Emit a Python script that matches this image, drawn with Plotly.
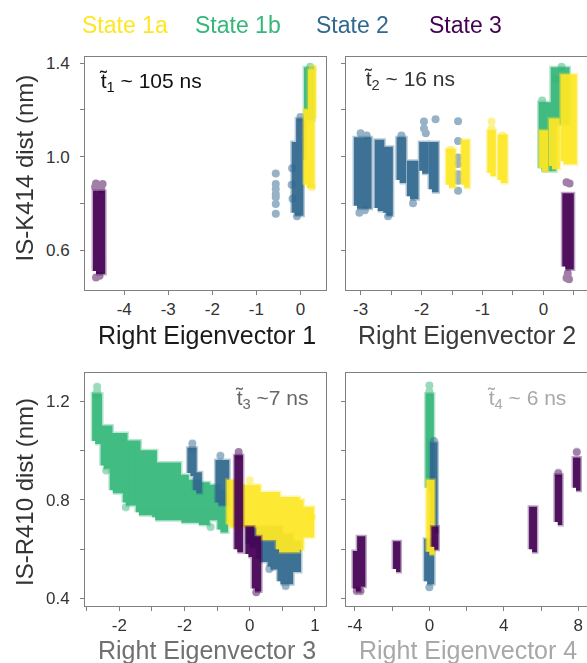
import plotly.graph_objects as go

# ---------------- data ----------------
STATE_COLORS = {"1a": "#fde725", "1b": "#35b779", "2": "#31688e", "3": "#440154"}
LEGEND_NAMES = ["State 1a", "State 1b", "State 2", "State 3"]
LEGEND_KEYS = ["1a", "1b", "2", "3"]

# clusters of points: (x_lo, x_hi, y_lo, y_hi)
# panel 1: Right Eigenvector 1 vs IS-K414 dist
p1_1b = [(0.15, 0.24, 1.17, 1.37)]
p1_2 = [(-0.13, 0.0, 0.76, 1.05), (-0.03, 0.05, 1.0, 1.15)]
p1_1a = [(0.24, 0.28, 1.18, 1.36), (0.14, 0.25, 0.88, 1.19)]
p1_3 = [(-4.64, -4.50, 0.51, 0.84)]
p1_pts = {
    "1b": ([0.22], [1.385]),
    "2": ([-0.56, -0.56, -0.56, -0.56, -0.56, -0.56, -0.56, -0.19, -0.20, -0.18, 0.0, -0.08],
          [0.928, 0.883, 0.861, 0.84, 0.826, 0.797, 0.755, 0.95, 0.88, 0.82, 1.17, 0.745]),
    "1a": ([0.28, 0.26], [1.38, 0.87]),
    "3": ([-4.64, -4.49, -4.64, -4.56, -4.52, -4.66], [0.885, 0.883, 0.483, 0.49, 0.86, 0.87]),
}

# panel 2: Right Eigenvector 2 vs IS-K414 dist
p2_1b = [(-0.03, 0.16, 0.95, 1.22), (0.17, 0.38, 1.15, 1.37)]
p2_2 = [(-3.06, -2.87, 0.79, 1.07), (-2.72, -2.66, 0.78, 1.06), (-2.58, -2.52, 0.76, 1.03),
        (-2.36, -2.30, 0.90, 1.07), (-2.19, -2.10, 0.83, 0.97), (-1.99, -1.93, 0.94, 1.05),
        (-1.83, -1.77, 0.86, 1.05)]
p2_1a = [(-1.55, -1.49, 0.88, 1.02), (-1.30, -1.26, 0.88, 1.06), (-0.87, -0.83, 0.93, 1.10),
         (-0.70, -0.64, 0.90, 1.08), (-0.02, 0.03, 0.95, 1.10), (0.14, 0.22, 0.96, 1.15),
         (0.33, 0.50, 0.98, 1.34)]
p2_3 = [(0.36, 0.45, 0.53, 0.83)]
p2_pts = {
    "1b": ([0.30, 0.20, -0.02], [1.385, 1.33, 1.24]),
    "2": ([-3.0, -2.9, -3.02, -2.93, -1.96, -1.96, -1.93, -1.77, -1.40, -1.40, -1.40, -1.40, -1.40,
           -1.40, -1.40, -2.33, -2.55, -2.14],
          [1.10, 1.09, 0.76, 0.77, 1.15, 1.12, 1.10, 1.16, 1.152, 1.067, 0.996, 0.968, 0.925,
           0.897, 0.854, 1.09, 0.745, 0.80]),
    "1a": ([-1.52, -0.85, -0.85, -0.67], [1.03, 1.15, 1.12, 1.09]),
    "3": ([0.38, 0.43, 0.38, 0.42, 0.40], [0.89, 0.885, 0.48, 0.475, 0.50]),
}

# panel 3: Right Eigenvector 3 vs IS-R410 dist
p3_1b = [(-2.37, -2.31, 1.04, 1.22), (-2.24, -2.15, 0.94, 1.09), (-2.10, -1.92, 0.84, 1.06),
         (-1.90, -1.72, 0.79, 1.03), (-1.70, -1.47, 0.75, 0.99), (-1.45, -1.10, 0.73, 0.94),
         (-1.05, -0.98, 0.72, 0.89), (-0.95, -0.80, 0.72, 0.87), (-0.78, -0.66, 0.71, 0.86),
         (-0.64, -0.50, 0.73, 0.85), (-0.45, -0.38, 0.68, 0.83)]
p3_2 = [(-0.91, -0.86, 0.91, 1.00), (-0.82, -0.78, 0.84, 0.90), (-0.48, -0.36, 0.79, 0.95),
        (0.0, 0.15, 0.62, 0.68), (0.15, 0.30, 0.56, 0.68), (0.32, 0.45, 0.53, 0.68),
        (0.47, 0.62, 0.47, 0.65), (0.62, 0.74, 0.52, 0.62)]
p3_1a = [(-0.31, -0.17, 0.70, 0.87), (-0.12, 0.12, 0.70, 0.85), (0.15, 0.42, 0.65, 0.82),
         (0.45, 0.72, 0.60, 0.80), (0.65, 0.78, 0.61, 0.79), (0.80, 0.94, 0.66, 0.76)]
p3_3 = [(-0.19, -0.15, 0.60, 0.97), (-0.02, 0.02, 0.58, 0.68), (0.08, 0.13, 0.44, 0.64)]
p3_pts = {
    "1b": ([-2.34, -2.34, -2.36, -2.2, -1.9, -0.6], [1.26, 1.24, 1.23, 0.92, 0.77, 0.69]),
    "2": ([-0.88, -0.88, -0.45, 0.55, 0.30], [1.03, 1.01, 0.98, 0.45, 0.52]),
    "1a": ([0.0, 0.95], [0.88, 0.73]),
    "3": ([-0.17, -0.17, 0.10], [0.995, 0.98, 0.425]),
}

# panel 4: Right Eigenvector 4 vs IS-R410 dist
p4_1b = [(-0.05, 0.08, 0.85, 1.22)]
p4_2 = [(-0.12, 0.10, 0.47, 0.63), (0.20, 0.28, 0.68, 1.02)]
p4_1a = [(0.0, 0.12, 0.59, 0.87)]
p4_3 = [(-3.95, -3.85, 0.44, 0.58), (-3.72, -3.60, 0.46, 0.64), (-1.79, -1.71, 0.52, 0.62),
        (0.27, 0.33, 0.61, 0.68), (5.52, 5.62, 0.60, 0.76), (6.90, 6.98, 0.71, 0.89),
        (7.88, 7.96, 0.85, 0.96)]
p4_pts = {
    "1b": ([0.0, 0.0], [1.265, 1.24]),
    "2": ([0.0, 0.25], [0.445, 1.04]),
    "1a": ([], []),
    "3": ([-3.9, -3.7, 7.92, 6.93], [0.43, 0.43, 0.995, 0.91]),
}

# axis ticks (major, labelled) and minor ticks
x1_ticks = [-4, -3, -2, -1, 0]
x1_text = ["-4", "-3", "-2", "-1", "0"]
x1_minor = []
x2_ticks = [-3, -2, -1, 0]
x2_text = ["-3", "-2", "-1", "0"]
x2_minor = [-2.5, -1.5, -0.5, 0.5]
x3_ticks = [-2, -1, 0, 1]
x3_text = ["-2", "-2", "0", "1"]
x3_minor = [-2.5, -1.5, -0.5, 0.5]
x4_ticks = [-4, 0, 4, 8]
x4_text = ["-4", "0", "4", "8"]
x4_minor = [-2, 2, 6]
ytop_ticks = [0.6, 1.0, 1.4]
ytop_text = ["0.6", "1.0", "1.4"]
ytop_minor = [0.8, 1.2]
ybot_ticks = [0.4, 0.8, 1.2]
ybot_text = ["0.4", "0.8", "1.2"]
ybot_minor = [0.6, 1.0]

x_titles = ["Right Eigenvector 1", "Right Eigenvector 2", "Right Eigenvector 3", "Right Eigenvector 4"]
y_titles = ["IS-K414 dist (nm)", "IS-R410 dist (nm)"]
timescales = ["t\u0303<sub>1</sub> ~ 105 ns", "t\u0303<sub>2</sub> ~ 16 ns",
              "t\u0303<sub>3</sub> ~7 ns", "t\u0303<sub>4</sub> ~ 6 ns"]

# ---------------- figure ----------------
W, H = 587, 663
FONT = "Liberation Sans, Arial, Helvetica, sans-serif"


def rect_poly(rects):
    xs, ys = [], []
    for x0, x1, y0, y1 in rects:
        xs += [x0, x1, x1, x0, x0, None]
        ys += [y0, y0, y1, y1, y0, None]
    return xs, ys


fig = go.Figure()

panels = [
    ("x", "y", {"1b": p1_1b, "2": p1_2, "1a": p1_1a, "3": p1_3}, p1_pts),
    ("x2", "y2", {"1b": p2_1b, "2": p2_2, "1a": p2_1a, "3": p2_3}, p2_pts),
    ("x3", "y3", {"1b": p3_1b, "2": p3_2, "1a": p3_1a, "3": p3_3}, p3_pts),
    ("x4", "y4", {"1b": p4_1b, "2": p4_2, "1a": p4_1a, "3": p4_3}, p4_pts),
]
draw_order = ["1b", "2", "1a", "3"]

for xa, ya, clusters, pts in panels:
    for key in draw_order:
        c = STATE_COLORS[key]
        px, py = rect_poly(clusters[key])
        if px:
            fig.add_trace(go.Scatter(x=px, y=py, xaxis=xa, yaxis=ya, mode="lines", fill="toself",
                                     fillcolor=c, line=dict(color=c, width=9), opacity=0.35,
                                     hoverinfo="skip", showlegend=False))
            fig.add_trace(go.Scatter(x=px, y=py, xaxis=xa, yaxis=ya, mode="lines", fill="toself",
                                     fillcolor=c, line=dict(color=c, width=6), opacity=0.9,
                                     hoverinfo="skip", showlegend=False))
        ox, oy = pts[key]
        if ox:
            fig.add_trace(go.Scatter(x=ox, y=oy, xaxis=xa, yaxis=ya, mode="markers",
                                     marker=dict(color=c, size=8, line=dict(width=0)),
                                     opacity=0.5, hoverinfo="skip", showlegend=False))

AX_COL = "#808080"


def minor(vals):
    return dict(tickmode="array", tickvals=vals, ticks="outside", ticklen=4,
                tickcolor=AX_COL, showgrid=False)


def xax(domain, rng, tv, tt, mv, anchor):
    return dict(domain=domain, range=rng, anchor=anchor, tickmode="array", tickvals=tv,
                ticktext=tt, minor=minor(mv),
                showline=True, linecolor=AX_COL, linewidth=1, mirror=True,
                ticks="outside", ticklen=4, tickcolor=AX_COL, showgrid=False, zeroline=False,
                tickfont=dict(family=FONT, size=17, color="#333333"), ticklabelstandoff=0)


def yax(domain, rng, tv, tt, mv, anchor, labels, mirror):
    return dict(domain=domain, range=rng, anchor=anchor, tickmode="array", tickvals=tv,
                ticktext=tt, minor=minor(mv),
                showticklabels=labels, showline=True, linecolor=AX_COL, linewidth=1,
                mirror=mirror, ticks="outside", ticklen=4, tickcolor=AX_COL, showgrid=False,
                zeroline=False, tickfont=dict(family=FONT, size=17, color="#333333"),
                ticklabelstandoff=7)


def fx(px):
    return px / W


def fy(py):
    return 1 - py / H


dx_l = [fx(85), fx(326)]
dx_r = [fx(346), 1.0]
dy_t = [fy(289.3), fy(55)]
dy_b = [fy(607.7), fy(373)]

fig.update_layout(
    width=W, height=H, margin=dict(l=0, r=0, t=0, b=0),
    paper_bgcolor="white", plot_bgcolor="white", showlegend=False,
    font=dict(family=FONT),
    xaxis=xax(dx_l, [-4.89, 0.58], x1_ticks, x1_text, x1_minor, "y"),
    yaxis=yax(dy_t, [0.431, 1.428], ytop_ticks, ytop_text, ytop_minor, "x", True, True),
    xaxis2=xax(dx_r, [-3.24, 0.716], x2_ticks, x2_text, x2_minor, "y2"),
    yaxis2=yax(dy_t, [0.431, 1.428], ytop_ticks, ytop_text, ytop_minor, "x2", False, False),
    xaxis3=xax(dx_l, [-2.526, 1.169], x3_ticks, x3_text, x3_minor, "y3"),
    yaxis3=yax(dy_b, [0.369, 1.317], ybot_ticks, ybot_text, ybot_minor, "x3", True, True),
    xaxis4=xax(dx_r, [-4.48, 8.47], x4_ticks, x4_text, x4_minor, "y4"),
    yaxis4=yax(dy_b, [0.369, 1.317], ybot_ticks, ybot_text, ybot_minor, "x4", False, False),
)

ann = []
# legend row
legend_cx = [125, 238, 352, 466]
for name, key, cx in zip(LEGEND_NAMES, LEGEND_KEYS, legend_cx):
    ann.append(dict(text=name, x=fx(cx), y=fy(23), xref="paper", yref="paper",
                    xanchor="center", yanchor="middle", showarrow=False,
                    font=dict(family=FONT, size=23, color=STATE_COLORS[key])))
# axis titles
xt_pos = [(206.5, 335), (466.5, 335), (207, 652), (468, 652)]
xt_col = ["#1a1a1a", "#3a3a3a", "#707070", "#a8a8a8"]
for t, (cx, cy), col in zip(x_titles, xt_pos, xt_col):
    ann.append(dict(text=t, x=fx(cx), y=fy(cy), xref="paper", yref="paper",
                    xanchor="center", yanchor="middle", showarrow=False,
                    font=dict(family=FONT, size=25, color=col)))
yt_pos = [(24, 167.5), (24, 493)]
for t, (cx, cy) in zip(y_titles, yt_pos):
    ann.append(dict(text=t, x=fx(cx), y=fy(cy), xref="paper", yref="paper",
                    xanchor="center", yanchor="middle", showarrow=False, textangle=-90,
                    font=dict(family=FONT, size=24, color="#333333")))
# timescale labels
ts_pos = [(97, 80), (362, 78), (233, 399), (485, 399)]
ts_col = ["#111111", "#333333", "#666666", "#a8a8a8"]
for t, (lx, cy), col in zip(timescales, ts_pos, ts_col):
    ann.append(dict(text=t, x=fx(lx), y=fy(cy), xref="paper", yref="paper",
                    xanchor="left", yanchor="middle", showarrow=False,
                    font=dict(family=FONT, size=21, color=col)))

fig.update_layout(annotations=ann)
fig.write_html("out.html")
